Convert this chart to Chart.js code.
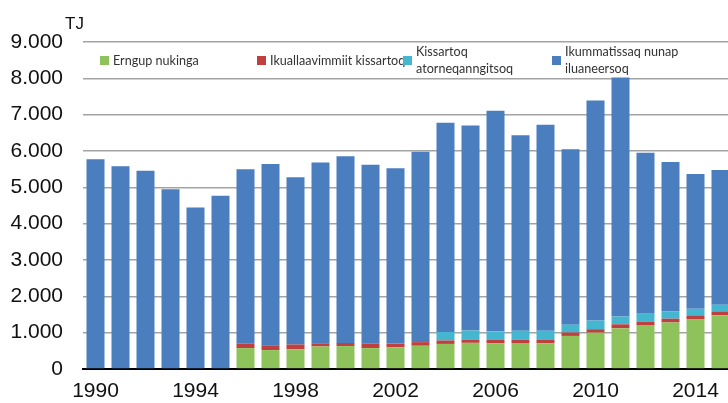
<!DOCTYPE html>
<html>
<head>
<meta charset="utf-8">
<script src="https://cdn.jsdelivr.net/npm/chart.js@4/dist/chart.umd.min.js"></script>
<style>
  html, body { margin: 0; padding: 0; background: #fff; overflow: hidden; }
  #wrap { position: relative; width: 745px; height: 403px; }
  #legend { position: absolute; left: 0; top: 0; font-family: Lato, "Open Sans", sans-serif; font-size: 12.6px; color: #333; }
  .item { position: absolute; display: flex; align-items: center; line-height: 17px; white-space: nowrap; }
  .box { width: 9px; height: 9px; margin-right: 4px; flex: none; }
</style>
</head>
<body>
<div id="wrap">
  <canvas id="chart" width="745" height="403"></canvas>
  <div id="legend"></div>
</div>
<script>
// --- data ---
const years = ['1990','1991','1992','1993','1994','1995','1996','1997','1998','1999','2000','2001','2002',
               '2003','2004','2005','2006','2007','2008','2009','2010','2011','2012','2013','2014','2015'];
const xTickLabels = ['1990','1994','1998','2002','2006','2010','2014'];
const yTickLabels = ['0','1.000','2.000','3.000','4.000','5.000','6.000','7.000','8.000','9.000'];
const unit = 'TJ';

const labelGreen = 'Erngup nukinga';
const labelRed = 'Ikuallaavimmiit kissartoq';
const labelCyan = ['Kissartoq', 'atorneqanngitsoq'];
const labelBlue = ['Ikummatissaq nunap', 'iluaneersoq'];

const greenValues = [0,0,0,0,0,0,575,520,545,620,630,575,600,640,690,720,705,715,705,910,1000,1120,1195,1280,1375,1475];
const redValues   = [0,0,0,0,0,0,120,130,130,85,85,120,100,100,95,90,95,90,95,95,95,110,110,105,100,110];
const cyanValues  = [0,0,0,0,0,0,0,0,0,0,0,0,0,0,235,250,230,250,255,215,240,215,235,205,180,185];
const blueValues  = [5770,5580,5455,4950,4445,4765,4800,4990,4600,4980,5140,4925,4825,5240,5755,5640,6080,5380,5670,4825,6055,6580,4415,4110,3710,3705];

const colGreen = '#8dc35a', colRed = '#c0403f', colCyan = '#45b6cf', colBlue = '#4a7ebf';

// "TJ" unit text above the value axis
const unitLabel = {
  id: 'unitLabel',
  afterDraw(chart) {
    const ctx = chart.ctx, a = chart.chartArea;
    ctx.save();
    ctx.font = '17px "Liberation Sans", Arial, sans-serif';
    ctx.fillStyle = '#111';
    ctx.textAlign = 'left';
    ctx.textBaseline = 'alphabetic';
    ctx.fillText(unit, a.left - 18, a.top - 13);
    ctx.restore();
  }
};

const chart = new Chart(document.getElementById('chart'), {
  type: 'bar',
  data: {
    labels: years,
    datasets: [
      { label: labelGreen, data: greenValues, backgroundColor: colGreen },
      { label: labelRed, data: redValues, backgroundColor: colRed },
      { label: labelCyan, data: cyanValues, backgroundColor: colCyan },
      { label: labelBlue, data: blueValues, backgroundColor: colBlue }
    ]
  },
  options: {
    responsive: false,
    animation: false,
    layout: { padding: { top: 42, right: 12, left: 0, bottom: 0 } },
    datasets: { bar: { categoryPercentage: 1, barPercentage: 0.72, borderWidth: 0 } },
    plugins: { legend: { display: false }, tooltip: { enabled: false } },
    scales: {
      x: {
        stacked: true,
        grid: { display: false, drawTicks: false },
        border: { color: '#000', width: 2 },
        afterFit: s => { s.height = 34; },
        ticks: {
          autoSkip: false, maxRotation: 0, padding: 12, color: '#111',
          font: { family: '"Liberation Sans", Arial, sans-serif', size: 21, lineHeight: 1 },
          callback: (v, i) => xTickLabels.includes(years[i]) ? years[i] : ''
        }
      },
      y: {
        stacked: true,
        min: 0, max: 9000,
        grid: { color: '#a3a3a3', lineWidth: 1.6, drawTicks: false },
        border: { display: false },
        afterFit: s => { s.width = 83; },
        ticks: {
          stepSize: 1000, padding: 20, color: '#111',
          font: { family: '"Liberation Sans", Arial, sans-serif', size: 21 },
          callback: (v, i) => yTickLabels[i]
        }
      }
    }
  },
  plugins: [unitLabel]
});

// HTML legend inside the plot, built from the datasets
const legendX = [100, 257, 403, 552];
const legend = document.getElementById('legend');
chart.data.datasets.forEach((ds, i) => {
  const item = document.createElement('div');
  item.className = 'item';
  const lines = Array.isArray(ds.label) ? ds.label : [ds.label];
  item.style.left = legendX[i] + 'px';
  item.style.top = (60 - lines.length * 17 / 2) + 'px';
  const box = document.createElement('span');
  box.className = 'box';
  box.style.background = ds.backgroundColor;
  const txt = document.createElement('span');
  txt.innerHTML = lines.join('<br>');
  item.appendChild(box);
  item.appendChild(txt);
  legend.appendChild(item);
});
</script>
</body>
</html>
